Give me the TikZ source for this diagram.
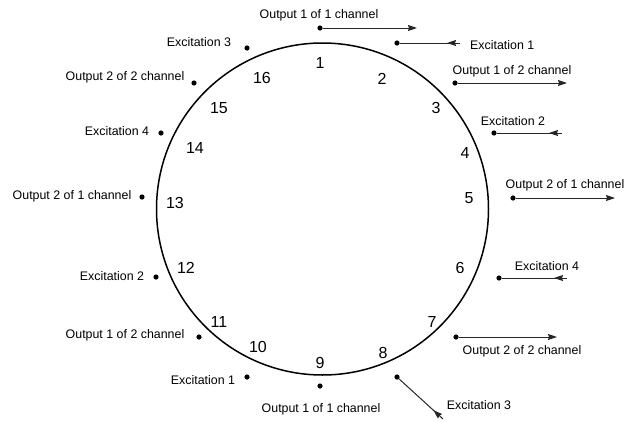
\documentclass[tikz,border=0pt]{standalone}
\usepackage{fontspec}
\setmainfont{Liberation Sans}
\usetikzlibrary{arrows.meta,decorations.markings}
\begin{document}
\begin{tikzpicture}[x=1pt,y=-1pt,
  dot/.style={circle,fill=black,inner sep=0pt,minimum size=5.2pt},
  lbl/.style={font=\fontsize{12.4}{14}\selectfont,inner sep=0pt},
  num/.style={font=\fontsize{16}{18}\selectfont,inner sep=0pt},
  ring/.style={draw=black,line width=1.5pt},
  outarrow/.style={draw=black!85,line width=1pt,-{Stealth[length=9pt,width=6pt,inset=1pt]}},
  excarrow/.style={draw=black!85,line width=1pt,postaction={decorate},
    decoration={markings,mark=at position 13pt with {\arrow{Stealth[length=9pt,width=6pt,inset=1pt]}}}}
]
\useasboundingbox (0,0) rectangle (630,421);
% ring
\node[ring,circle,minimum size=332pt,inner sep=0pt] (ringc) at (322.5,209) {};
% numbers
\node[num] (n1) at (320,63) {1};
\node[num] (n2) at (382,79) {2};
\node[num] (n3) at (436,108) {3};
\node[num] (n4) at (465,153) {4};
\node[num] (n5) at (469,198) {5};
\node[num] (n6) at (460,268) {6};
\node[num] (n7) at (432,322) {7};
\node[num] (n8) at (383,353) {8};
\node[num] (n9) at (320,363) {9};
\node[num] (n10) at (258,347) {10};
\node[num] (n11) at (219,322) {11};
\node[num] (n12) at (186,268) {12};
\node[num] (n13) at (175,203) {13};
\node[num] (n14) at (195,148) {14};
\node[num] (n15) at (219,108) {15};
\node[num] (n16) at (262,78) {16};
% dots
\node[dot] (d1) at (320,28) {};
\node[dot] (d2) at (397,43) {};
\node[dot] (d3) at (455,83) {};
\node[dot] (d4) at (494,133) {};
\node[dot] (d5) at (513,198) {};
\node[dot] (d6) at (499,278) {};
\node[dot] (d7) at (456,337) {};
\node[dot] (d8) at (397,377) {};
\node[dot] (d9) at (320,386) {};
\node[dot] (d10) at (247,377) {};
\node[dot] (d11) at (199,337) {};
\node[dot] (d12) at (156,277) {};
\node[dot] (d13) at (142,197) {};
\node[dot] (d14) at (161,133) {};
\node[dot] (d15) at (194,83) {};
\node[dot] (d16) at (247,48) {};
% arrow ends
\coordinate (e1) at (417,28);
\coordinate (e2) at (460,43);
\coordinate (e3) at (567,83);
\coordinate (e4) at (562,133);
\coordinate (e5) at (615,198);
\coordinate (e6) at (567,278);
\coordinate (e7) at (557,337);
\coordinate (e8) at (443,419);
% arrows
\draw[outarrow] (d1) -- (e1);
\draw[excarrow] (e2) -- (d2);
\draw[outarrow] (d3) -- (e3);
\draw[excarrow] (e4) -- (d4);
\draw[outarrow] (d5) -- (e5);
\draw[excarrow] (e6) -- (d6);
\draw[outarrow] (d7) -- (e7);
\draw[excarrow] (e8) -- (d8);
% labels
\node[lbl] (l1) at (319,15) {Output 1 of 1 channel};
\node[lbl,anchor=west] (l2) at (470,45) {Excitation 1};
\node[lbl] (l3) at (512,71) {Output 1 of 2 channel};
\node[lbl] (l4) at (513,121) {Excitation 2};
\node[lbl] (l5) at (565,185) {Output 2 of 1 channel};
\node[lbl] (l6) at (547,266) {Excitation 4};
\node[lbl] (l7) at (522,351) {Output 2 of 2 channel};
\node[lbl] (l8) at (479,405) {Excitation 3};
\node[lbl] (l9) at (321,409) {Output 1 of 1 channel};
\node[lbl] (l10) at (203,380) {Excitation 1};
\node[lbl] (l11) at (125,335) {Output 1 of 2 channel};
\node[lbl] (l12) at (112,276) {Excitation 2};
\node[lbl] (l13) at (72,196) {Output 2 of 1 channel};
\node[lbl] (l14) at (117,131) {Excitation 4};
\node[lbl] (l15) at (125,77) {Output 2 of 2 channel};
\node[lbl] (l16) at (199,42) {Excitation 3};
\end{tikzpicture}
\end{document}
